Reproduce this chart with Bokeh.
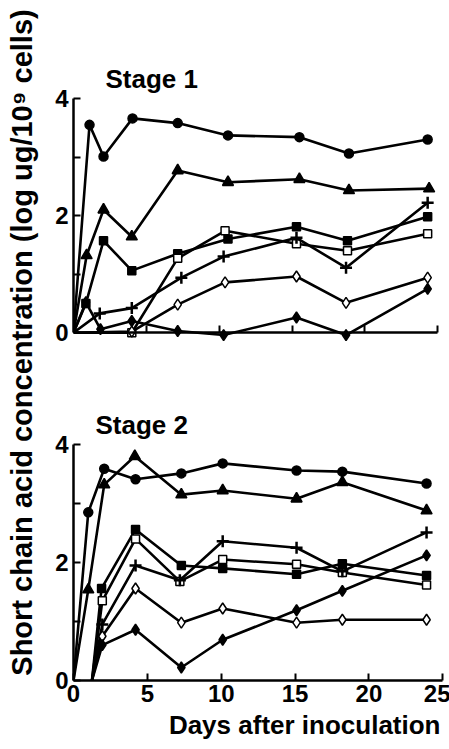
import math
from bokeh.plotting import figure
from bokeh.layouts import row, column
from bokeh.models import Range1d, FixedTicker, Label, Title
from bokeh.embed import file_html
from bokeh.resources import INLINE

FONT = "Liberation Sans"

# ---------------- data: Stage 1 ----------------
s1_circle_day = [0, 1.1, 2.06, 4.05, 7.15, 10.6, 15.5, 18.9, 24.3]
s1_circle_val = [0, 3.55, 3.01, 3.66, 3.58, 3.37, 3.34, 3.06, 3.30]

s1_tri_day = [0, 0.9, 2.06, 4.0, 7.15, 10.6, 15.5, 18.9, 24.4]
s1_tri_val = [0, 1.32, 2.10, 1.64, 2.77, 2.57, 2.62, 2.43, 2.46]

s1_fsq_day = [0, 0.85, 2.06, 4.0, 7.15, 10.6, 15.3, 18.8, 24.3]
s1_fsq_val = [0, 0.50, 1.57, 1.06, 1.35, 1.60, 1.81, 1.57, 1.98]

s1_osq_day = [0, 4.0, 7.15, 10.4, 15.3, 18.8, 24.3]
s1_osq_val = [0, 0.0, 1.27, 1.74, 1.52, 1.40, 1.69]

s1_plus_day = [0, 1.8, 4.0, 7.4, 10.3, 15.3, 18.7, 24.3]
s1_plus_val = [0, 0.33, 0.42, 0.94, 1.30, 1.62, 1.11, 2.22]

s1_odia_day = [0, 4.0, 7.15, 10.4, 15.3, 18.7, 24.3]
s1_odia_val = [0, 0.02, 0.48, 0.86, 0.96, 0.51, 0.94]

s1_fdia_day = [0, 0.85, 1.85, 4.0, 7.15, 10.3, 15.3, 18.7, 24.3]
s1_fdia_val = [0, 0.52, 0.06, 0.20, 0.03, -0.04, 0.26, -0.04, 0.75]

# ---------------- data: Stage 2 ----------------
s2_circle_day = [0, 1.0, 2.08, 4.2, 7.3, 10.1, 15.1, 18.2, 23.9]
s2_circle_val = [0, 2.85, 3.59, 3.41, 3.51, 3.68, 3.56, 3.54, 3.34]

s2_tri_day = [0, 1.0, 2.08, 4.15, 7.3, 10.1, 15.1, 18.2, 23.9]
s2_tri_val = [0, 1.54, 3.32, 3.80, 3.15, 3.22, 3.08, 3.36, 2.88]

s2_fsq_day = [1.25, 1.9, 4.2, 7.3, 10.1, 15.1, 18.2, 23.9]
s2_fsq_val = [0, 1.56, 2.56, 1.95, 1.90, 1.80, 1.98, 1.78]

s2_osq_day = [1.25, 1.95, 4.2, 7.2, 10.1, 15.1, 18.2, 23.9]
s2_osq_val = [0, 1.35, 2.40, 1.68, 2.05, 1.97, 1.83, 1.62]

s2_plus_day = [1.25, 1.95, 4.2, 7.2, 10.1, 15.1, 18.2, 23.9]
s2_plus_val = [0, 0.95, 1.95, 1.70, 2.36, 2.25, 1.85, 2.51]

s2_odia_day = [1.25, 1.95, 4.2, 7.3, 10.1, 15.1, 18.2, 23.9]
s2_odia_val = [0, 0.75, 1.56, 0.98, 1.22, 0.98, 1.03, 1.03]

s2_fdia_day = [1.25, 1.95, 4.2, 7.3, 10.1, 15.1, 18.2, 23.9]
s2_fdia_val = [0, 0.60, 0.86, 0.22, 0.69, 1.19, 1.52, 2.12]

x_ticks = [0, 5, 10, 15, 20, 25]
y_major_ticks = [0, 2, 4]
y_minor_ticks = [1, 3]

y_label = "Short chain acid concentration (log ug/10\u2079 cells)"
x_label = "Days after inoculation"

# marker styles: (marker, fill, size)
STYLES = {
    "circle": ("circle", "black", 9),
    "tri": ("triangle", "black", 11),
    "fsq": ("square", "black", 8),
    "osq": ("square", "white", 8),
    "plus": ("cross", "black", 12),
    "odia": ("diamond", "white", 11),
    "fdia": ("diamond", "black", 11),
}


def draw(p, days, vals, key):
    marker, fill, size = STYLES[key]
    p.line(days, vals, line_color="black", line_width=2.6)
    p.scatter(days[1:], vals[1:], marker=marker, size=size,
              fill_color=fill, line_color="black",
              line_width=2.5 if key == "plus" else 1.5)


def style(p, show_xlabels):
    p.outline_line_color = None
    p.xgrid.visible = False
    p.ygrid.visible = False
    p.background_fill_color = "white"
    p.border_fill_color = "white"
    xa = p.xaxis[0]
    ya = p.yaxis[0]
    for ax in (xa, ya):
        ax.axis_line_width = 2.5
        ax.axis_line_color = "black"
        ax.major_tick_line_width = 2
        ax.major_tick_line_color = "black"
        ax.major_tick_in = 7
        ax.major_tick_out = 0
        ax.minor_tick_line_width = 2
        ax.minor_tick_line_color = "black"
        ax.minor_tick_in = 7
        ax.minor_tick_out = 0
        ax.major_label_text_font = FONT
        ax.major_label_text_font_style = "bold"
        ax.major_label_text_font_size = "24px"
        ax.major_label_text_color = "black"
        ax.major_label_standoff = 5
    if show_xlabels:
        xa.ticker = FixedTicker(ticks=x_ticks)
        xa.major_label_standoff = 4
    else:
        # ticks only, no labels on the upper panel
        xa.ticker = FixedTicker(ticks=[], minor_ticks=x_ticks)
        xa.fixed_location = 0
    xa.bounds = (0, 25)
    ya.ticker = FixedTicker(ticks=y_major_ticks, minor_ticks=y_minor_ticks)
    ya.bounds = (0, 4)
    p.title.text_font = FONT
    p.title.text_font_style = "bold"
    p.title.text_font_size = "26px"
    p.title.align = "left"
    p.title.text_color = "black"


# ---------------- y-label strip ----------------
p0 = figure(width=48, height=748, min_border=0, x_range=Range1d(0, 48),
            y_range=Range1d(0, 748), x_axis_location=None,
            y_axis_location=None, output_backend="svg",
            toolbar_location=None)
p0.outline_line_color = None
p0.xgrid.visible = False
p0.ygrid.visible = False
p0.add_layout(Label(x=21, y=406, text=y_label, angle=math.pi / 2,
                    text_align="center", text_baseline="middle",
                    text_font=FONT, text_font_style="bold",
                    text_font_size="29px", text_color="black"))

# ---------------- Stage 1 ----------------
p1 = figure(frame_width=368, frame_height=243, min_border_left=25,
            min_border_right=8, min_border_top=98, min_border_bottom=26,
            x_range=Range1d(0, 25.25), y_range=Range1d(-0.15, 4.0),
            title="Stage 1", output_backend="svg", toolbar_location=None)
style(p1, False)
p1.title.offset = 32
draw(p1, s1_circle_day, s1_circle_val, "circle")
draw(p1, s1_tri_day, s1_tri_val, "tri")
draw(p1, s1_fsq_day, s1_fsq_val, "fsq")
draw(p1, s1_osq_day, s1_osq_val, "osq")
draw(p1, s1_plus_day, s1_plus_val, "plus")
draw(p1, s1_odia_day, s1_odia_val, "odia")
draw(p1, s1_fdia_day, s1_fdia_val, "fdia")

# ---------------- Stage 2 ----------------
p2 = figure(frame_width=373, frame_height=236, min_border_left=20,
            min_border_right=8, min_border_top=77, min_border_bottom=68,
            x_range=Range1d(0, 25.25), y_range=Range1d(0, 4.0),
            title="Stage 2", output_backend="svg", toolbar_location=None)
style(p2, True)
p2.title.offset = 22
p2.add_layout(Title(text=x_label, align="right", offset=6, standoff=7,
                    text_font=FONT, text_font_style="bold",
                    text_font_size="26px", text_color="black"), "below")
draw(p2, s2_circle_day, s2_circle_val, "circle")
draw(p2, s2_tri_day, s2_tri_val, "tri")
draw(p2, s2_fsq_day, s2_fsq_val, "fsq")
draw(p2, s2_osq_day, s2_osq_val, "osq")
draw(p2, s2_plus_day, s2_plus_val, "plus")
draw(p2, s2_odia_day, s2_odia_val, "odia")
draw(p2, s2_fdia_day, s2_fdia_val, "fdia")

layout = row(p0, column(p1, p2))
open("out.html", "w").write(file_html(layout, INLINE))
